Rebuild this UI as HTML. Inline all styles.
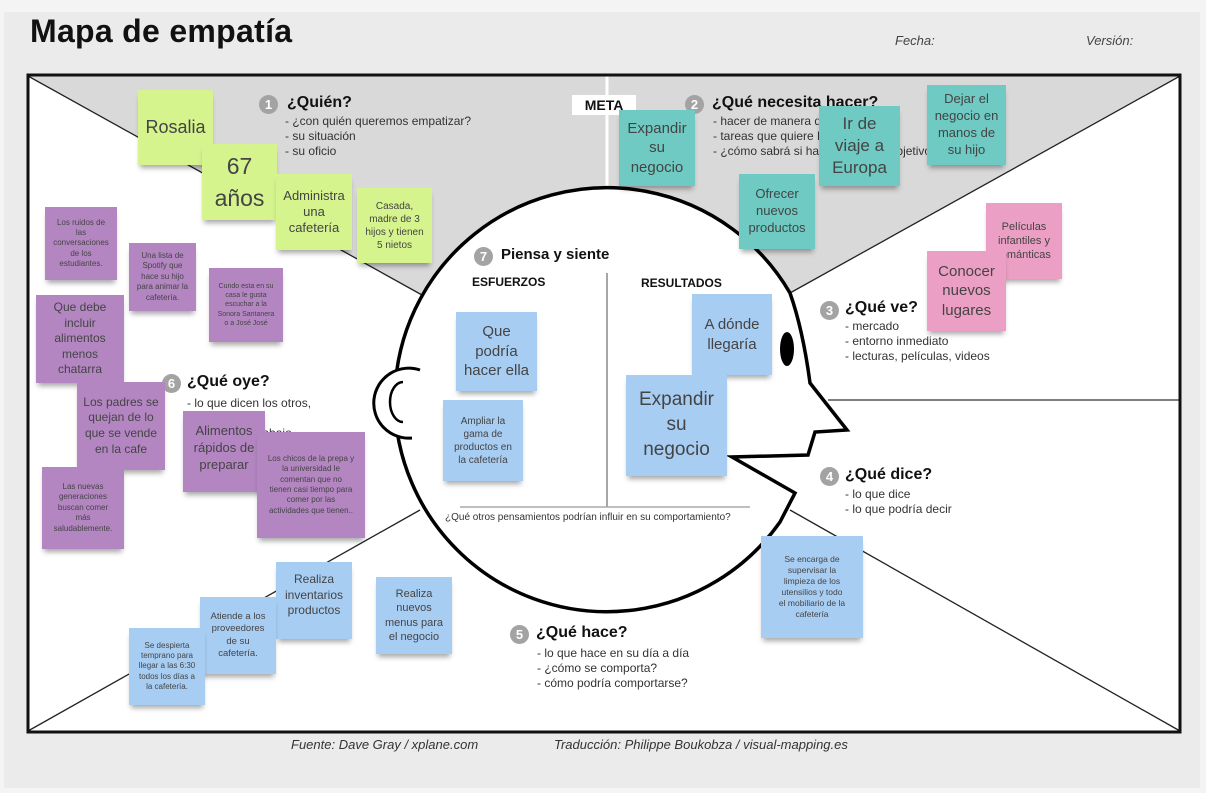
<!DOCTYPE html>
<html><head><meta charset="utf-8"><style>
body{margin:0;width:1206px;height:793px;background:#f4f4f4;position:relative;overflow:hidden;font-family:"Liberation Sans",sans-serif;}
.panel{position:absolute;left:4px;top:12px;width:1196px;height:776px;background:#ebebeb;}
.t{position:absolute;white-space:nowrap;color:#222;}
.s{position:absolute;display:flex;align-items:center;justify-content:center;text-align:center;color:#444;box-shadow:0 5px 5px -2px rgba(0,0,0,0.35);line-height:1.3;box-sizing:border-box;padding:2px;white-space:nowrap;}
.g{background:#d6f48e}.c{background:#6ecac2}.p{background:#b386c2}.k{background:#ec9fc4}.b{background:#a8cdf3}
.n{position:absolute;width:19px;height:19px;border-radius:50%;background:#a3a3a3;color:#fff;font-weight:bold;font-size:13px;text-align:center;line-height:19px;}
.h{font-weight:bold;font-size:16px;color:#111}
.l{font-size:12px;color:#333;line-height:15px}
</style></head><body>
<div class="panel"></div>
<svg style="position:absolute;left:0;top:0" width="1206" height="793">
<rect x="28" y="75" width="1152" height="657" fill="#fff"/>
<polygon points="28,75 1180,75 790,293 607,188 422,295" fill="#d9d9d9"/>
<line x1="607" y1="75" x2="607" y2="190" stroke="#fff" stroke-width="3"/>
<line x1="28" y1="76" x2="422" y2="295" stroke="#222" stroke-width="1.3"/>
<line x1="1180" y1="76" x2="790" y2="293" stroke="#222" stroke-width="1.3"/>
<line x1="28" y1="731" x2="420" y2="510" stroke="#222" stroke-width="1.3"/>
<line x1="1180" y1="731" x2="790" y2="510" stroke="#222" stroke-width="1.3"/>
<line x1="828" y1="400" x2="1180" y2="400" stroke="#555" stroke-width="1.5"/>
<path d="M790,293 Q803,330 810,383 L847,430 L815,432 L808,455 L732,457 L795,493 L780,522 A212,212 0 1,1 790,293 Z" fill="#fff" stroke="#000" stroke-width="3.5" stroke-linejoin="miter"/>
<path d="M420,370 A35,35 0 1,0 412,438" fill="#fff" stroke="#000" stroke-width="3"/>
<path d="M403,382 A13,20 0 1,0 403,422" fill="none" stroke="#000" stroke-width="2.5"/>
<ellipse cx="787" cy="349" rx="7" ry="17" fill="#000"/>
<line x1="607" y1="273" x2="607" y2="507" stroke="#888" stroke-width="1.5"/>
<line x1="460" y1="507" x2="750" y2="507" stroke="#aaa" stroke-width="1.5"/>
<rect x="28" y="75" width="1152" height="657" fill="none" stroke="#111" stroke-width="3"/>
</svg>

<div class="t" style="left:30px;top:13px;font-size:32px;font-weight:bold;color:#111;letter-spacing:0.3px">Mapa de empatía</div>
<div class="t" style="left:895px;top:33px;font-size:13px;font-style:italic;color:#444">Fecha:</div>
<div class="t" style="left:1086px;top:33px;font-size:13px;font-style:italic;color:#444">Versión:</div>

<div class="n" style="left:259px;top:95px">1</div>
<div class="t h" style="left:287px;top:94px">¿Quién?</div>
<div class="t l" style="left:285px;top:114px">- ¿con quién queremos empatizar?<br>- su situación<br>- su oficio</div>

<div class="t" style="left:572px;top:95px;width:64px;height:20px;background:#fff;font-weight:bold;font-size:14px;text-align:center;line-height:20px;color:#111">META</div>
<div class="n" style="left:685px;top:95px">2</div>
<div class="t h" style="left:712px;top:94px">¿Qué necesita hacer?</div>
<div class="t l" style="left:713px;top:114px">- hacer de manera diferente<br>- tareas que quiere hacer<br>- ¿cómo sabrá si ha cumplido su objetivo?</div>

<div class="n" style="left:820px;top:301px">3</div>
<div class="t h" style="left:845px;top:299px">¿Qué ve?</div>
<div class="t l" style="left:845px;top:319px">- mercado<br>- entorno inmediato<br>- lecturas, películas, videos</div>

<div class="n" style="left:820px;top:467px">4</div>
<div class="t h" style="left:845px;top:466px">¿Qué dice?</div>
<div class="t l" style="left:845px;top:487px">- lo que dice<br>- lo que podría decir</div>

<div class="n" style="left:510px;top:625px">5</div>
<div class="t h" style="left:536px;top:624px">¿Qué hace?</div>
<div class="t l" style="left:537px;top:646px">- lo que hace en su día a día<br>- ¿cómo se comporta?<br>- cómo podría comportarse?</div>

<div class="n" style="left:162px;top:374px">6</div>
<div class="t h" style="left:187px;top:373px">¿Qué oye?</div>
<div class="t l" style="left:187px;top:396px">- lo que dicen los otros,<br>&nbsp;&nbsp;sus amigos,<br>&nbsp;&nbsp;colegas de trabajo</div>

<div class="n" style="left:474px;top:247px">7</div>
<div class="t" style="left:501px;top:246px;font-weight:bold;font-size:15px;color:#111">Piensa y siente</div>
<div class="t" style="left:472px;top:275px;font-weight:bold;font-size:12px;color:#111">ESFUERZOS</div>
<div class="t" style="left:641px;top:276px;font-weight:bold;font-size:12px;color:#111">RESULTADOS</div>
<div class="t" style="left:445px;top:512px;font-size:10px;color:#333">¿Qué otros pensamientos podrían influir en su comportamiento?</div>

<div class="t" style="left:291px;top:737px;font-size:13px;font-style:italic;color:#333">Fuente: Dave Gray / xplane.com</div>
<div class="t" style="left:554px;top:737px;font-size:13px;font-style:italic;color:#333">Traducción: Philippe Boukobza / visual-mapping.es</div>

<!-- green -->
<div class="s g" style="left:138px;top:90px;width:75px;height:75px;font-size:18px">Rosalia</div>
<div class="s g" style="left:202px;top:144px;width:75px;height:76px;font-size:23px;line-height:1.4">67<br>años</div>
<div class="s g" style="left:276px;top:174px;width:76px;height:76px;font-size:13px;line-height:1.25">Administra<br>una<br>cafetería</div>
<div class="s g" style="left:357px;top:188px;width:75px;height:75px;font-size:10px">Casada,<br>madre de 3<br>hijos y tienen<br>5 nietos</div>
<!-- teal -->
<div class="s c" style="left:619px;top:110px;width:76px;height:76px;font-size:15px">Expandir<br>su<br>negocio</div>
<div class="s c" style="left:739px;top:174px;width:76px;height:75px;font-size:13px">Ofrecer<br>nuevos<br>productos</div>
<div class="s c" style="left:819px;top:106px;width:81px;height:80px;font-size:17px;line-height:1.3">Ir de<br>viaje a<br>Europa</div>
<div class="s c" style="left:927px;top:85px;width:79px;height:80px;font-size:13px">Dejar el<br>negocio en<br>manos de<br>su hijo</div>
<!-- pink -->
<div class="s k" style="left:986px;top:203px;width:76px;height:76px;font-size:11px">Películas<br>infantiles y<br>románticas</div>
<div class="s k" style="left:927px;top:251px;width:79px;height:80px;font-size:15px">Conocer<br>nuevos<br>lugares</div>
<!-- purple -->
<div class="s p" style="left:45px;top:207px;width:72px;height:73px;font-size:8px">Los ruidos de<br>las<br>conversaciones<br>de los<br>estudiantes.</div>
<div class="s p" style="left:129px;top:243px;width:67px;height:68px;font-size:8px">Una lista de<br>Spotify que<br>hace su hijo<br>para animar la<br>cafetería.</div>
<div class="s p" style="left:209px;top:268px;width:74px;height:74px;font-size:7px">Cundo esta en su<br>casa le gusta<br>escuchar a la<br>Sonora Santanera<br>o a José José</div>
<div class="s p" style="left:36px;top:295px;width:88px;height:88px;font-size:12px">Que debe<br>incluir<br>alimentos<br>menos<br>chatarra</div>
<div class="s p" style="left:77px;top:382px;width:88px;height:88px;font-size:12px">Los padres se<br>quejan de lo<br>que se vende<br>en la cafe</div>
<div class="s p" style="left:42px;top:467px;width:82px;height:82px;font-size:8px">Las nuevas<br>generaciones<br>buscan comer<br>más<br>saludablemente.</div>
<div class="s p" style="left:183px;top:411px;width:82px;height:81px;font-size:13px;align-items:flex-start;padding-top:12px">Alimentos<br>rápidos de<br>preparar</div>
<div class="s p" style="left:257px;top:432px;width:108px;height:106px;font-size:8px">Los chicos de la prepa y<br>la universidad le<br>comentan que no<br>tienen casi tiempo para<br>comer por las<br>actividades que tienen..</div>
<!-- blue -->
<div class="s b" style="left:456px;top:312px;width:81px;height:79px;font-size:15px">Que<br>podría<br>hacer ella</div>
<div class="s b" style="left:443px;top:400px;width:80px;height:81px;font-size:10px">Ampliar la<br>gama de<br>productos en<br>la cafetería</div>
<div class="s b" style="left:692px;top:294px;width:80px;height:81px;font-size:15px">A dónde<br>llegaría</div>
<div class="s b" style="left:626px;top:375px;width:101px;height:101px;font-size:19px">Expandir<br>su<br>negocio</div>
<div class="s b" style="left:761px;top:536px;width:102px;height:102px;font-size:8.5px">Se encarga de<br>supervisar la<br>limpieza de los<br>utensilios y todo<br>el mobiliario de la<br>cafetería</div>
<div class="s b" style="left:376px;top:577px;width:76px;height:77px;font-size:11px">Realiza<br>nuevos<br>menus para<br>el negocio</div>
<div class="s b" style="left:276px;top:562px;width:76px;height:77px;font-size:12px;align-items:flex-start;padding-top:10px">Realiza<br>inventarios<br>productos</div>
<div class="s b" style="left:200px;top:597px;width:76px;height:77px;font-size:9.5px">Atiende a los<br>proveedores<br>de su<br>cafetería.</div>
<div class="s b" style="left:129px;top:628px;width:76px;height:77px;font-size:8px">Se despierta<br>temprano para<br>llegar a las 6:30<br>todos los días a<br>la cafetería.</div>
</body></html>
